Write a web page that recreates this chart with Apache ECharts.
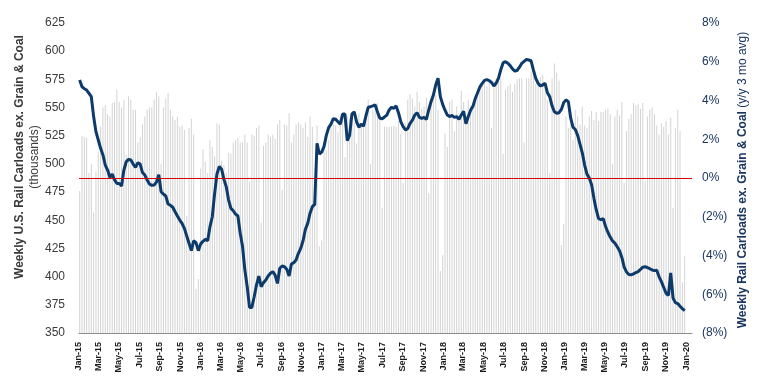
<!DOCTYPE html>
<html>
<head>
<meta charset="utf-8">
<script src="https://cdn.jsdelivr.net/npm/echarts@6/dist/echarts.min.js"></script>
<style>
html,body{margin:0;padding:0;background:#fff;}
#chart{width:764px;height:388px;}
</style>
</head>
<body>
<div id="chart"></div>
<script>
// Weekly carloads (thousands), weeks ending Saturday from 2015-01-03
const firstWeek = '2015-01-03';
const carloads2015a = [476,525,524,523,492,500,457,493,511,533,
550,552,544,542,554,555,566,555,550,557,
508,560,557,548,548,519,524,535,542,548,
550,550,557,564,560,500,550,558,563,548,
542,539,542,533,534,530,454,532,540,526,
389,398,496,513,502,492,521,515,507,536,
535,503,499,492,510,509];
const carloads2016b = [519,521,523,519,519,526,519,484,526,525,
532,534,448,516,519,526,524,526,522,535,
539,477,535,534,545,519,526,535,537,535,
532,537,524,542,533,465,534,427,432,515,
512,521,532,535,534,528,541,542,506,542,
540,536,537,518,545,535,537,543,557,500,
548,548,554,542,461,533,533];
const carloads2017c = [533,533,534,533,538,527,483,536,557,562,
558,551,564,555,549,551,559,474,558,563,
561,548,405,419,527,515,555,557,529,551,
542,565,555,539,557,552,550,557,567,569,
571,572,569,573,532,574,576,576,576,509,
566,569,571,564,571,575,576,576,519,576,
576,582,579,571,573,577];
const carloads2018d = [579,568,557,492,576,589,581,574,428,447,
542,532,548,521,548,542,535,551,534,532,
542,547,539,546,538,546,546,548,549,544,
500,542,548,543,555,483,529,540,544,554,
552,553,549,554,485,542,548,550,544,534,
526,536,533,538,526,541,461,532,548,529,
395,418];

// y/y change of 3-month average, percent
const yoy2015a = [5.06,4.71,4.61,4.54,4.37,4.2,3.17,2.39,1.96,1.53,
1.19,0.67,0.41,0.03,0.2,-0.1,-0.28,-0.28,-0.41,0.41,
0.84,0.96,0.93,0.72,0.55,0.79,0.72,0.28,0.15,-0.1,
-0.31,-0.38,-0.36,-0.21,0.17,-0.71,-0.83,-0.93,-1.34,-1.41,
-1.51,-1.74,-1.96,-2.17,-2.34,-2.6,-2.99,-3.37,-3.75,-3.24,
-3.34,-3.75,-3.4,-3.27,-3.17,-3.24,-2.51,-2.0,-0.79,0.21,
0.59,0.45,-0.07,-0.45,-1.14,-1.57];
const yoy2016b = [-1.69,-1.86,-1.96,-2.85,-3.54,-4.75,-5.61,-6.68,-6.68,-6.13,
-5.52,-5.06,-5.61,-5.4,-5.27,-5.06,-4.92,-4.83,-5.01,-5.44,
-4.66,-4.54,-4.58,-4.71,-5.06,-4.44,-4.37,-4.23,-3.89,-3.63,
-3.24,-2.65,-2.34,-1.82,-1.48,-1.36,1.79,1.24,1.34,1.62,
2.2,2.6,2.78,3.06,3.03,2.9,2.78,3.3,3.3,1.93,
2.2,3.3,3.42,2.9,2.62,2.78,2.68,3.2,3.65,3.68,
3.72,3.77,3.4,3.08,3.06,3.15,3.25];
const yoy2017c = [3.51,3.65,3.6,3.72,3.37,2.91,2.65,2.48,2.56,2.82,
2.99,3.25,3.37,3.13,3.08,3.13,3.03,3.51,3.94,4.28,
4.8,5.15,4.2,3.8,3.5,3.25,3.17,3.23,3.13,3.17,
3.03,3.25,3.45,2.8,3.17,3.5,3.7,4.1,4.4,4.7,
4.88,5.04,5.08,5.03,4.93,4.75,4.9,5.15,5.6,5.95,
6.0,5.92,5.8,5.63,5.52,5.55,5.72,5.92,6.02,6.12,
6.09,6.05,5.57,5.14,4.89,4.75];
const yoy2018d = [4.8,4.89,4.4,4.2,3.72,3.42,3.34,3.37,3.54,3.89,
4.03,3.94,3.1,2.62,2.5,2.2,1.75,1.3,0.67,0.2,
0.0,-0.35,-1.05,-1.65,-2.1,-2.15,-2.1,-2.5,-2.8,-3.05,
-3.25,-3.36,-3.55,-3.75,-4.1,-4.6,-4.85,-4.98,-5.0,-4.95,
-4.88,-4.83,-4.72,-4.6,-4.58,-4.63,-4.68,-4.75,-4.78,-4.76,
-5.1,-5.35,-5.65,-5.95,-6.06,-4.9,-6.2,-6.43,-6.48,-6.62,
-6.74,-6.85];

const xTickLabels = ['Jan-15','Mar-15','May-15','Jul-15','Sep-15','Nov-15',
'Jan-16','Mar-16','May-16','Jul-16','Sep-16','Nov-16',
'Jan-17','Mar-17','May-17','Jul-17','Sep-17','Nov-17',
'Jan-18','Mar-18','May-18','Jul-18','Sep-18','Nov-18',
'Jan-19','Mar-19','May-19','Jul-19','Sep-19','Nov-19','Jan-20'];
const leftTicks = [350,375,400,425,450,475,500,525,550,575,600,625];
const rightTicks = [-8,-6,-4,-2,0,2,4,6,8];

const MON = ['Jan','Feb','Mar','Apr','May','Jun','Jul','Aug','Sep','Oct','Nov','Dec'];
const DAY = 86400000;
function dayNum(y, m, d){ return Date.UTC(y, m, d) / DAY; }
function parseTick(s){ const p = s.split('-'); return dayNum(2000 + (+p[1]), MON.indexOf(p[0]), 1); }
const tickDays = xTickLabels.map(parseTick);
const tickLabelOf = {};
xTickLabels.forEach((s, i) => { tickLabelOf[tickDays[i]] = s; });

const carloads = [].concat(carloads2015a, carloads2016b, carloads2017c, carloads2018d);
const yoy = [].concat(yoy2015a, yoy2016b, yoy2017c, yoy2018d);
const fw = firstWeek.split('-').map(Number);
const weeks = carloads.map((_, i) => dayNum(fw[0], fw[1]-1, fw[2] + 7*i));

const FONT = '"Liberation Sans", Arial, sans-serif';
const chart = echarts.init(document.getElementById('chart'), null, {renderer:'canvas'});
chart.setOption({
  animation: false,
  backgroundColor: '#ffffff',
  grid: {left: 79, right: 72, top: 23, bottom: 55, containLabel: false},
  xAxis: {
    type: 'value',
    min: dayNum(2015,0,1),
    max: dayNum(2020,0,19),
    splitLine: {show:false},
    axisTick: {show:false},
    axisLine: {show:true, onZero:false, lineStyle:{color:'#8c8c8c', width:1}},
    axisLabel: {
      customValues: tickDays,
      rotate: 90,
      margin: 9,
      fontSize: 9,
      fontWeight: 'bold',
      fontFamily: FONT,
      color: '#1a1a1a',
      formatter: function(v){ return tickLabelOf[Math.round(v)] || ''; }
    }
  },
  yAxis: [{
    type: 'value', min: leftTicks[0], max: leftTicks[leftTicks.length-1], interval: 25,
    splitLine: {show:false}, axisLine:{show:false}, axisTick:{show:false},
    axisLabel: {margin: 14, fontSize: 12, fontFamily: FONT, color: '#3a3a3a'}
  },{
    type: 'value', min: rightTicks[0], max: rightTicks[rightTicks.length-1], interval: 2,
    splitLine: {show:false}, axisLine:{show:false}, axisTick:{show:false},
    axisLabel: {margin: 10, fontSize: 12, fontFamily: FONT, color: '#1a3560',
      formatter: function(v){ return v < 0 ? '(' + (-v) + '%)' : v + '%'; }}
  }],
  series: [{
    type: 'bar', yAxisIndex: 0, barWidth: 1, silent: true,
    itemStyle: {color: '#d3d3d3'},
    data: weeks.map((t, i) => [t, carloads[i]])
  },{
    type: 'line', yAxisIndex: 1, showSymbol: false, silent: true,
    lineStyle: {color: '#0b3a6b', width: 3},
    itemStyle: {color: '#0b3a6b'},
    data: weeks.map((t, i) => [t, yoy[i]]),
    markLine: {
      silent: true, symbol: ['none','none'], label: {show:false},
      lineStyle: {color: '#d60000', width: 1, type: 'solid'},
      data: [{yAxis: 0}]
    },
    z: 3
  }],
  graphic: [
    {type:'text', x:20, y:157, rotation: Math.PI/2,
     style:{text:'Weekly U.S. Rail Carloads ex. Grain & Coal', fontSize:12, fontWeight:'bold', fontFamily:FONT, fill:'#3a3a3a', textAlign:'center', textVerticalAlign:'middle'}},
    {type:'text', x:35, y:157, rotation: Math.PI/2,
     style:{text:'(thousands)', fontSize:12, fontFamily:FONT, fill:'#3a3a3a', textAlign:'center', textVerticalAlign:'middle'}},
    {type:'text', x:743, y:180, rotation: Math.PI/2,
     style:{text:'{b|Weekly Rail Carloads ex. Grain & Coal} {r|(y/y 3 mo avg)}',
       rich:{b:{fontSize:12, fontWeight:'bold', fontFamily:FONT, fill:'#1a3560'}, r:{fontSize:12, fontFamily:FONT, fill:'#1a3560'}},
       fontSize:12, fontFamily:FONT, fill:'#1a3560', textAlign:'center', textVerticalAlign:'middle'}}
  ]
});
</script>
</body>
</html>
